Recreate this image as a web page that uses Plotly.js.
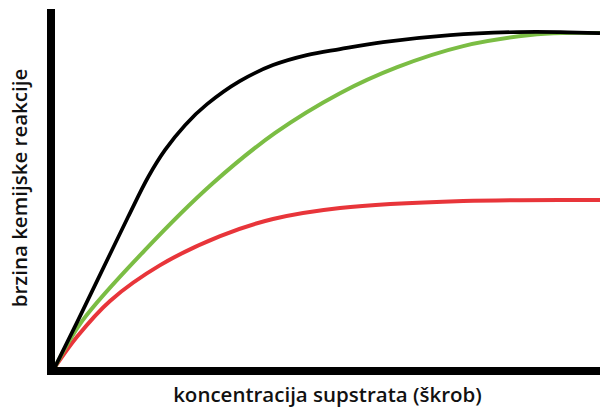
<!DOCTYPE html>
<html>
<head>
<meta charset="utf-8">
<script src="https://cdn.plot.ly/plotly-3.0.1.min.js"></script>
<style>html,body{margin:0;padding:0;background:#fff;}#chart{width:600px;height:414px;}</style>
</head>
<body>
<div id="chart"></div>
<script>
// Substrate concentration (arbitrary units) and relative reaction rate
const blackX = [0, 0.39, 0.77, 1.34, 1.71, 2.02, 2.39, 2.79, 3.39, 4.0, 4.62, 5.23, 6.02, 7.25, 8.48, 9.27, 10];
const blackY = [0, 0.129, 0.257, 0.449, 0.569, 0.650, 0.725, 0.787, 0.856, 0.904, 0.934, 0.952, 0.973, 0.994, 1.003, 1.003, 1.0];

const greenX = [0, 0.50, 1.65, 2.88, 4.04, 5.23, 6.28, 7.49, 8.72, 9.36, 10];
const greenY = [0, 0.138, 0.350, 0.548, 0.701, 0.820, 0.898, 0.961, 0.994, 1.0, 1.0];

const redX = [0, 0.40, 1.01, 1.93, 3.03, 4.0, 5.23, 7.49, 10];
const redY = [0, 0.090, 0.198, 0.305, 0.392, 0.443, 0.476, 0.497, 0.5];

const xTitle = 'koncentracija supstrata (škrob)';
const yTitle = 'brzina kemijske reakcije';

const traces = [
  {x: redX, y: redY, mode: 'lines', line: {color: '#e8353a', width: 4, shape: 'spline', smoothing: 1}, hoverinfo: 'skip'},
  {x: greenX, y: greenY, mode: 'lines', line: {color: '#7bbd44', width: 4, shape: 'spline', smoothing: 1}, hoverinfo: 'skip'},
  {x: blackX, y: blackY, mode: 'lines', line: {color: '#000000', width: 3.7, shape: 'spline', smoothing: 1}, hoverinfo: 'skip'}
];

const titleFont = {size: 20.5, family: 'Open Sans, sans-serif', weight: 600, color: '#111111'};

const layout = {
  width: 600, height: 414,
  margin: {l: 55, r: 0, t: 9, b: 47},
  paper_bgcolor: '#ffffff', plot_bgcolor: '#ffffff',
  showlegend: false,
  font: {family: 'Open Sans, sans-serif', color: '#111111'},
  xaxis: {
    range: [0, 10], showgrid: false, zeroline: false, showticklabels: false, ticks: '',
    showline: true, linecolor: '#000000', linewidth: 8,
    title: {text: xTitle, font: titleFont, standoff: 17},
    automargin: false
  },
  yaxis: {
    range: [0, 1.072], showgrid: false, zeroline: false, showticklabels: false, ticks: '',
    showline: true, linecolor: '#000000', linewidth: 8,
    title: {text: yTitle, font: titleFont, standoff: 17},
    automargin: false
  }
};

Plotly.newPlot('chart', traces, layout, {staticPlot: true, displayModeBar: false});
</script>
</body>
</html>
